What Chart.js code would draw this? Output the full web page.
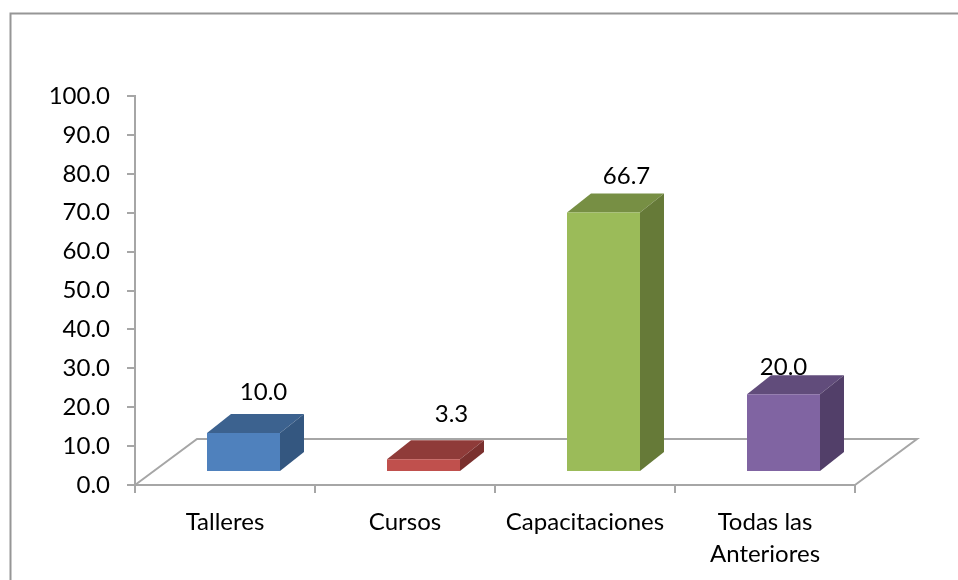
<!DOCTYPE html>
<html>
<head>
<meta charset="utf-8">
<title>Chart</title>
<script src="https://cdn.jsdelivr.net/npm/chart.js@4"></script>
<style>
  body { margin: 0; background: #fff; }
  canvas { display: block; }
</style>
</head>
<body>
<canvas id="chart" width="958" height="580"></canvas>
<script>
/* --------------- Data --------------------- */
const categories = ["Talleres", "Cursos", "Capacitaciones", ["Todas las", "Anteriores"]];
const values = [10.0, 3.3, 66.7, 20.0];
const frontColors = ["#4f81bd", "#c0504d", "#9bbb59", "#8064a2"];
const topColors = ["#3c628f", "#8f3b39", "#778f44", "#614c7b"];
const sideColors = ["#345780", "#7a302e", "#667a38", "#523f69"];
/* hand moved labels, offset from the top centre of the bar front */
const labelDx = [20, 28, 23, 0];
const labelDy = [-41, -45, -36, -27];

const AXIS_COLOR = "#a6a6a6";
const FONT = "Lato";
const FONT_SIZE = 24;
const FLOOR_DX = 62, FLOOR_DY = -46;   // floor depth
const BAR_DX = 24, BAR_DY = -19;       // bar depth
const SHIFT_X = 18.5, SHIFT_Y = -13;   // bars stand in the middle of the floor

const poly = (ctx, pts, color) => {
  ctx.beginPath();
  pts.forEach((p, i) => (i ? ctx.lineTo(p[0], p[1]) : ctx.moveTo(p[0], p[1])));
  ctx.closePath();
  ctx.fillStyle = color;
  ctx.fill();
};

/* --------------- Fake 3D --------------------- */
const bars3d = {
  id: "bars3d",
  beforeDraw(chart) {
    // outer frame, right side is cut by the picture
    const ctx = chart.ctx;
    ctx.save();
    ctx.strokeStyle = "#969696";
    ctx.lineWidth = 2;
    ctx.beginPath();
    ctx.moveTo(10.5, 580);
    ctx.lineTo(10.5, 13.5);
    ctx.lineTo(958, 13.5);
    ctx.stroke();
    ctx.restore();
  },
  beforeDatasetsDraw(chart) {
    const ctx = chart.ctx;
    const { left, right, bottom } = chart.chartArea;
    ctx.save();
    ctx.strokeStyle = AXIS_COLOR;
    ctx.lineWidth = 2;
    ctx.beginPath();
    ctx.moveTo(left, bottom);
    ctx.lineTo(left + FLOOR_DX, bottom + FLOOR_DY);
    ctx.lineTo(right + FLOOR_DX, bottom + FLOOR_DY);
    ctx.lineTo(right, bottom);
    ctx.stroke();
    ctx.restore();
  },
  beforeDatasetDraw(chart) {
    const ctx = chart.ctx;
    ctx.save();
    ctx.translate(SHIFT_X, SHIFT_Y);
    chart.getDatasetMeta(0).data.forEach((bar, i) => {
      const l = bar.x - bar.width / 2, r = bar.x + bar.width / 2;
      poly(ctx, [[l, bar.y], [r, bar.y], [r + BAR_DX, bar.y + BAR_DY], [l + BAR_DX, bar.y + BAR_DY]], topColors[i]);
      poly(ctx, [[r, bar.y], [r + BAR_DX, bar.y + BAR_DY], [r + BAR_DX, bar.base + BAR_DY], [r, bar.base]], sideColors[i]);
    });
  },
  afterDatasetDraw(chart) {
    chart.ctx.restore();
  },
  afterDatasetsDraw(chart) {
    const ctx = chart.ctx;
    ctx.save();
    ctx.font = FONT_SIZE + "px " + FONT;
    ctx.fillStyle = "#000";
    ctx.textAlign = "center";
    ctx.textBaseline = "middle";
    chart.getDatasetMeta(0).data.forEach((bar, i) => {
      ctx.fillText(values[i].toFixed(1), bar.x + SHIFT_X + labelDx[i], bar.y + SHIFT_Y + labelDy[i]);
    });
    ctx.restore();
  },
};

/* --------------- Chart --------------------- */
new Chart(document.getElementById("chart"), {
  type: "bar",
  plugins: [bars3d],
  data: {
    labels: categories,
    datasets: [
      {
        data: values,
        backgroundColor: frontColors,
        barPercentage: 73 / 180,
        categoryPercentage: 1,
      },
    ],
  },
  options: {
    responsive: false,
    animation: false,
    layout: { padding: { top: 96, right: 103 } },
    plugins: { legend: { display: false }, tooltip: { enabled: false } },
    scales: {
      x: {
        afterFit: (scale) => { scale.height = 95; },
        border: { color: AXIS_COLOR, width: 2 },
        grid: { color: AXIS_COLOR, lineWidth: 2, drawOnChartArea: false, tickLength: 8 },
        ticks: {
          color: "#000",
          font: { family: FONT, size: FONT_SIZE, lineHeight: 1.33 },
          padding: 13,
          maxRotation: 0,
          autoSkip: false,
        },
      },
      y: {
        min: 0,
        max: 100,
        afterFit: (scale) => { scale.width = 135; },
        border: { color: AXIS_COLOR, width: 2 },
        grid: { color: AXIS_COLOR, lineWidth: 2, drawOnChartArea: false, tickLength: 8 },
        ticks: {
          stepSize: 10,
          color: "#000",
          padding: 17,
          font: { family: FONT, size: FONT_SIZE },
          callback: (v) => v.toFixed(1),
        },
      },
    },
  },
});
</script>
</body>
</html>
